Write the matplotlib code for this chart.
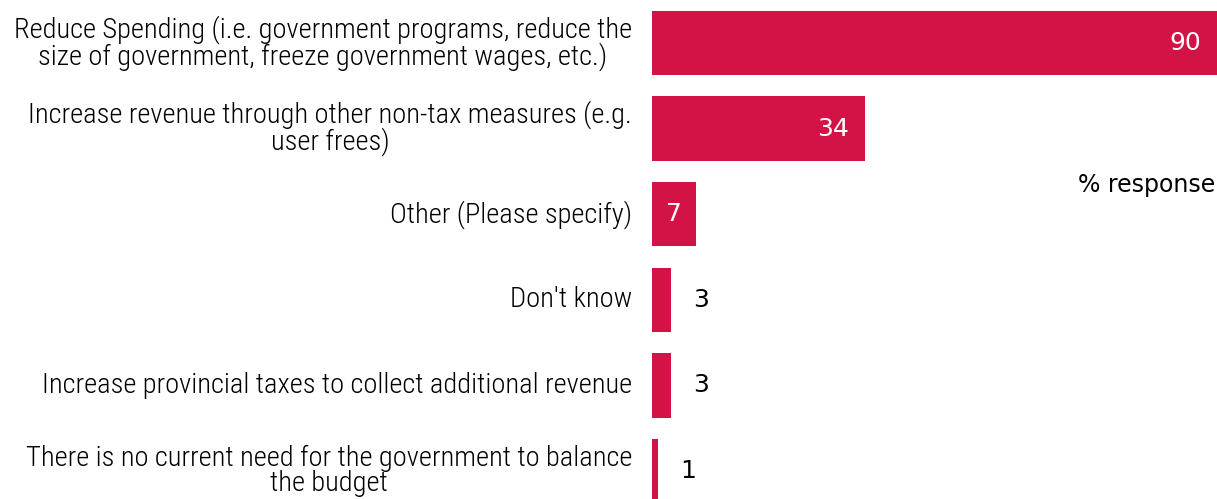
import matplotlib.pyplot as plt
from matplotlib import font_manager

labels = [
    "Reduce Spending (i.e. government programs, reduce the\nsize of government, freeze government wages, etc.)",
    "Increase revenue through other non-tax measures (e.g.\nuser frees)",
    "Other (Please specify)",
    "Don't know",
    "Increase provincial taxes to collect additional revenue",
    "There is no current need for the government to balance\nthe budget",
]
values = [90, 34, 7, 3, 3, 1]

bar_color = "#D31245"
names = {f.name for f in font_manager.fontManager.ttflist}
label_font = "Lato"
for cand in ["Roboto Condensed", "Open Sans Condensed", "Liberation Sans Narrow"]:
    if cand in names:
        label_font = cand
        break

fig = plt.figure(figsize=(12.17, 4.99), dpi=100)
ax = fig.add_axes([652 / 1217, 0, 1 - 652 / 1217, 1])

ypos = list(range(len(values)))
ax.barh(ypos, values, height=0.75, color=bar_color, clip_on=True)
ax.set_xlim(0, 90)
ax.set_ylim(5.327, -0.502)
ax.axis("off")

for y, v, lab in zip(ypos, values, labels):
    ax.text(-3.2, y, lab, ha="right", va="center", multialignment="center",
            fontsize=20.5, family=label_font, fontweight="light", linespacing=0.93)
    if v >= 30:
        ax.text(v - 2.6, y, str(v), ha="right", va="center", color="white",
                fontsize=18, family="DejaVu Sans")
    elif v >= 5:
        ax.text(v / 2, y, str(v), ha="center", va="center", color="white",
                fontsize=18, family="DejaVu Sans")
    else:
        ax.text(v + 4.8, y, str(v), ha="center", va="center", color="black",
                fontsize=18, family="DejaVu Sans")

fig.text(1215 / 1217, 1 - 185 / 499, "% response", ha="right", va="center",
         fontsize=17, family="DejaVu Sans")

fig.savefig("out.png", dpi=100)
